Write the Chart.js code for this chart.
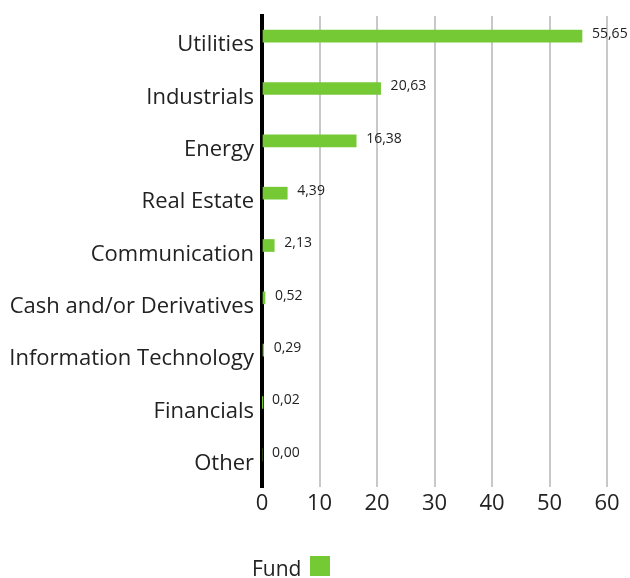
<!DOCTYPE html>
<html>
<head>
<meta charset="utf-8">
<script src="https://cdn.jsdelivr.net/npm/chart.js@4/dist/chart.umd.min.js"></script>
<style>
  html, body { margin: 0; padding: 0; background: #fff; }
  #wrap { width: 630px; height: 578px; }
</style>
</head>
<body>
<div id="wrap"><canvas id="c" width="630" height="578"></canvas></div>
<script>
const categories = ["Utilities", "Industrials", "Energy", "Real Estate", "Communication", "Cash and/or Derivatives", "Information Technology", "Financials", "Other"];
const fundValues = [55.65, 20.63, 16.38, 4.39, 2.13, 0.52, 0.29, 0.02, 0.00];
const benchmarkValues = [null, null, null, null, null, null, null, null, null];
const xTicks = [0, 10, 20, 30, 40, 50, 60];
const seriesNames = ["Fund", "Benchmark"];

const FONT = "'Open Sans', sans-serif";
const GREEN = '#74c935';

const valueLabels = {
  id: 'valueLabels',
  afterDatasetsDraw(chart) {
    const ctx = chart.ctx;
    const meta = chart.getDatasetMeta(0);
    ctx.save();
    ctx.font = '14px ' + FONT;
    ctx.fillStyle = '#222';
    ctx.textAlign = 'left';
    ctx.textBaseline = 'middle';
    meta.data.forEach((bar, i) => {
      const v = fundValues[i];
      ctx.fillText(v.toFixed(2).replace('.', ','), bar.x + 10, bar.y - 2);
    });
    ctx.restore();
  }
};

const customLegend = {
  id: 'customLegend',
  afterDraw(chart) {
    const ctx = chart.ctx;
    ctx.save();
    ctx.font = '21px ' + FONT;
    ctx.fillStyle = '#222';
    ctx.textAlign = 'left';
    ctx.textBaseline = 'alphabetic';
    ctx.fillText(seriesNames[0], 252, 576);
    ctx.fillStyle = GREEN;
    ctx.fillRect(310, 556, 20, 20);
    ctx.restore();
  }
};

new Chart(document.getElementById('c'), {
  type: 'bar',
  data: {
    labels: categories,
    datasets: [
      { label: seriesNames[0], data: fundValues, backgroundColor: GREEN, barThickness: 12 },
      { label: seriesNames[1], data: benchmarkValues, backgroundColor: '#999', barThickness: 12 }
    ]
  },
  options: {
    indexAxis: 'y',
    responsive: false,
    animation: false,
    events: [],
    layout: { padding: { top: 16, right: 23, left: 0, bottom: 0 } },
    plugins: { legend: { display: false }, tooltip: { enabled: false } },
    scales: {
      x: {
        min: 0, max: 60,
        afterBuildTicks(scale) { scale.ticks = xTicks.map(v => ({ value: v })); },
        afterFit(scale) { scale.height = 91; },
        border: { display: false },
        grid: {
          drawTicks: false,
          lineWidth: 2,
          color: (c) => c.tick && c.tick.value === 0 ? 'rgba(0,0,0,0)' : '#c8c8c8'
        },
        ticks: { font: { family: FONT, size: 22 }, color: '#222', padding: 4 }
      },
      y: {
        afterFit(scale) { scale.width = 262; scale.paddingTop = 0; scale.paddingBottom = 0; },
        border: { display: true, color: '#000', width: 4 },
        grid: { display: false, drawTicks: false },
        ticks: { font: { family: FONT, size: 22 }, color: '#222', padding: 8, labelOffset: 3 }
      }
    }
  },
  plugins: [valueLabels, customLegend]
});
</script>
</body>
</html>
